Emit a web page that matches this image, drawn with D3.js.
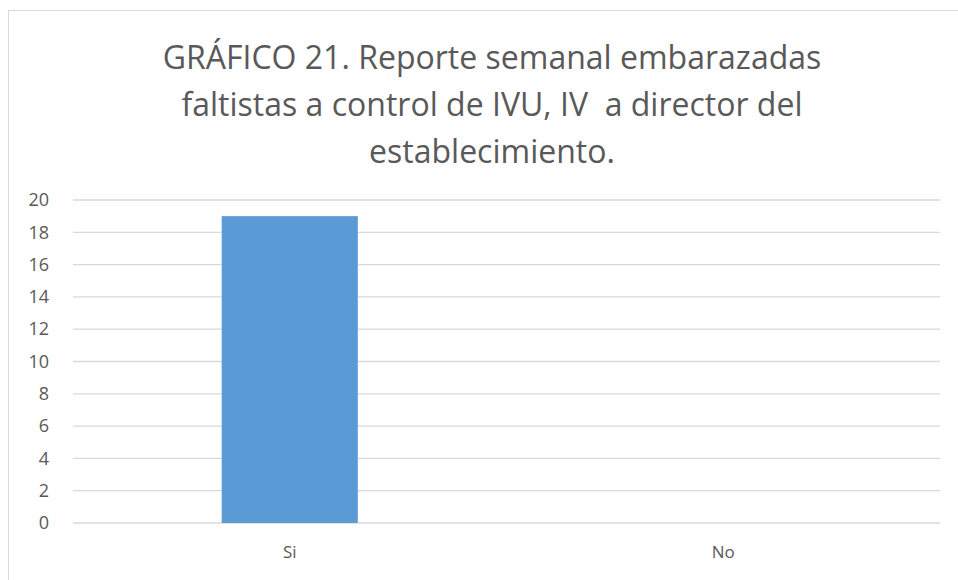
<!DOCTYPE html>
<html>
<head>
<meta charset="utf-8">
<script src="https://cdn.jsdelivr.net/npm/d3@7"></script>
<style>
  body { margin: 0; background: #fff; }
  svg { display: block; }
  .title text { white-space: pre; }
</style>
</head>
<body>
<div id="chart"></div>
<script>
// data
const categories = ["Si", "No"];
const values = [19, 0];
const yTicks = [0, 2, 4, 6, 8, 10, 12, 14, 16, 18, 20];
const titleLines = [
  "GRÁFICO 21. Reporte semanal embarazadas",
  "faltistas a control de IVU, IV  a director del",
  "establecimiento."
];

const W = 958, H = 580;
const margin = { top: 200, right: 18, bottom: 57, left: 73 };
const width = W - margin.left - margin.right;
const height = H - margin.top - margin.bottom;

const svg = d3.select("#chart").append("svg")
  .attr("width", W)
  .attr("height", H);

// chart border
svg.append("rect")
  .attr("x", 8.5).attr("y", 10.5)
  .attr("width", 960).attr("height", 600)
  .attr("fill", "#fff")
  .attr("stroke", "#d9d9d9");

// title
const title = svg.append("g")
  .attr("class", "title")
  .attr("font-family", "'Open Sans', sans-serif")
  .attr("fill", "#595959");
const texts = titleLines.map((t, i) => title.append("text")
  .attr("x", 492)
  .attr("y", 69 + i * 47)
  .attr("text-anchor", "middle")
  .attr("font-size", 32)
  .text(t));
// Calibri is narrower than the fonts we have, so shrink to the width of line 1
const fs = 32 * 659 / texts[0].node().getComputedTextLength();
texts.forEach(t => t.attr("font-size", fs));

const g = svg.append("g")
  .attr("transform", `translate(${margin.left},${margin.top})`);

const x = d3.scaleBand()
  .domain(categories)
  .range([0, width])
  .paddingInner(0.686)
  .paddingOuter(0.343);

const y = d3.scaleLinear()
  .domain([0, 20])
  .range([height, 0]);

// gridlines
g.append("g")
  .selectAll("line")
  .data(yTicks)
  .join("line")
  .attr("x1", 0).attr("x2", width)
  .attr("y1", d => y(d)).attr("y2", d => y(d))
  .attr("stroke", "#d9d9d9")
  .attr("stroke-width", 1.3);

// bars
g.selectAll(".bar")
  .data(values)
  .join("rect")
  .attr("class", "bar")
  .attr("x", (d, i) => x(categories[i]))
  .attr("y", d => y(d))
  .attr("width", x.bandwidth())
  .attr("height", d => y(0) - y(d))
  .attr("fill", "#5b9bd5");

// y axis labels
const yAxis = d3.axisLeft(y).tickValues(yTicks).tickSize(0).tickPadding(24);
g.append("g")
  .call(yAxis)
  .call(s => s.select(".domain").remove())
  .selectAll("text")
  .attr("font-family", "'Open Sans', sans-serif")
  .attr("font-size", 18)
  .attr("fill", "#595959");

// x axis labels
const xAxis = d3.axisBottom(x).tickSize(0).tickPadding(23);
g.append("g")
  .attr("transform", `translate(0,${height})`)
  .call(xAxis)
  .call(s => s.select(".domain").remove())
  .selectAll("text")
  .attr("font-family", "'Open Sans', sans-serif")
  .attr("font-size", 17)
  .attr("fill", "#595959");
</script>
</body>
</html>
